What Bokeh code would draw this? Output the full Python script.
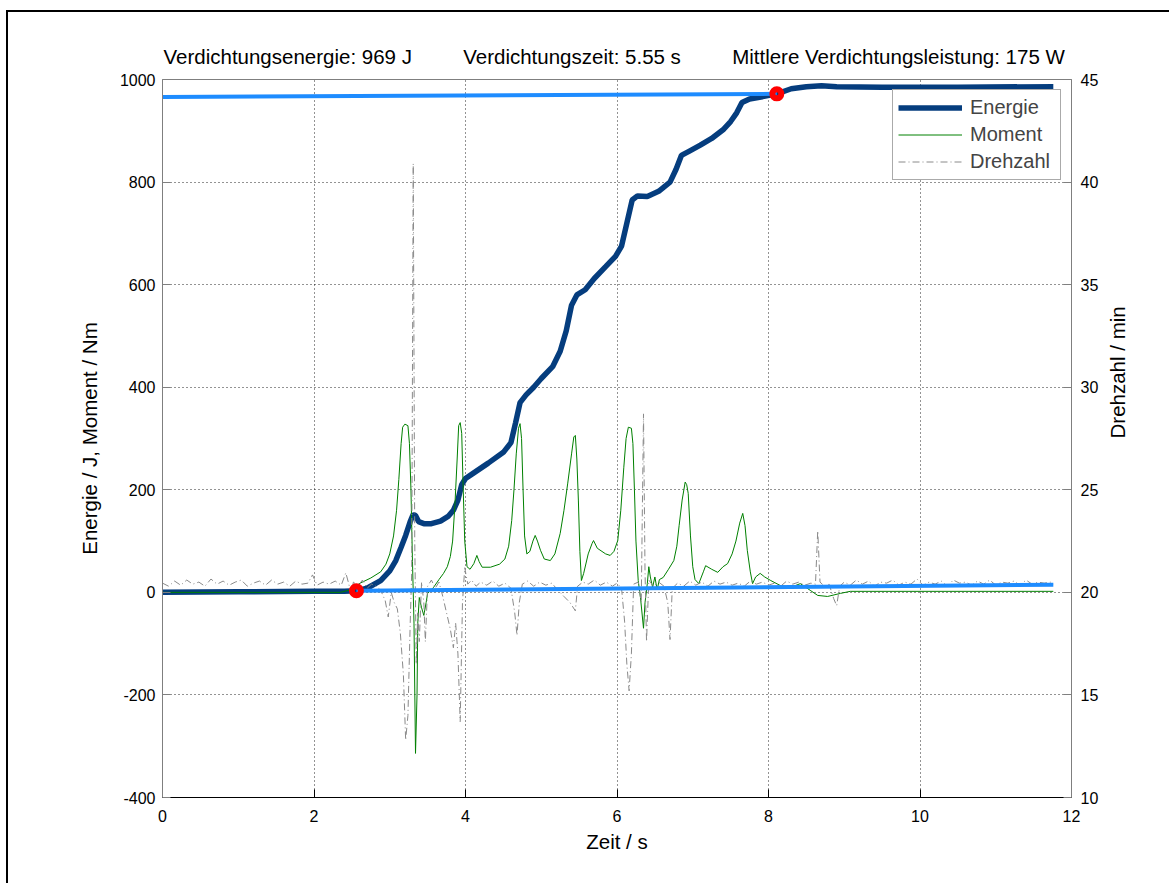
import math
from bokeh.plotting import figure
from bokeh.models import (Range1d, LinearAxis, Legend, LegendItem, FixedTicker,
                          PrintfTickFormatter)
from bokeh.embed import file_html
from bokeh.resources import INLINE

# ---------------- data ----------------
energie = [(0.0, 0), (1.0, 1), (2.0, 2), (2.4, 2), (2.56, 3), (2.7, 8), (2.88, 23), (3.0, 42),
           (3.08, 62), (3.15, 88), (3.21, 111), (3.27, 138), (3.31, 152), (3.34, 150), (3.38, 138),
           (3.45, 134), (3.55, 134), (3.67, 139), (3.77, 148), (3.84, 160), (3.90, 180), (3.95, 210),
           (4.0, 222), (4.1, 232), (4.3, 252), (4.5, 273), (4.6, 292), (4.66, 330), (4.72, 370),
           (4.8, 385), (4.9, 400), (5.0, 417), (5.15, 440), (5.25, 470), (5.33, 510), (5.4, 560),
           (5.47, 580), (5.58, 590), (5.7, 612), (5.85, 635), (5.98, 655), (6.06, 675), (6.13, 720),
           (6.2, 765), (6.27, 773), (6.4, 772), (6.55, 782), (6.7, 800), (6.78, 825), (6.85, 852),
           (6.95, 860), (7.1, 872), (7.25, 885), (7.4, 902), (7.5, 918), (7.58, 935), (7.65, 955),
           (7.75, 962), (7.9, 966), (8.11, 972), (8.3, 982), (8.5, 986), (8.7, 988), (8.9, 986),
           (9.5, 985), (10.5, 985), (11.76, 986)]
energie_t = [a for a, b in energie]
energie_v = [b for a, b in energie]

moment = [(0.0, 0), (2.35, 0), (2.48, 5), (2.61, 18), (2.75, 28), (2.88, 40), (2.95, 55), (3.0, 75),
          (3.05, 110), (3.09, 160), (3.12, 220), (3.15, 290), (3.17, 322), (3.20, 328), (3.24, 325),
          (3.26, 290), (3.28, 200), (3.30, 60), (3.32, -60), (3.34, -314), (3.36, -200), (3.37, -60),
          (3.39, -10), (3.42, -30), (3.45, -45), (3.48, -20), (3.50, -2), (3.58, 10), (3.65, 25),
          (3.71, 37), (3.76, 50), (3.80, 70), (3.83, 100), (3.86, 170), (3.89, 260), (3.91, 325),
          (3.93, 331), (3.95, 310), (3.97, 200), (3.99, 100), (4.02, 50), (4.06, 45), (4.11, 56),
          (4.15, 72), (4.18, 60), (4.22, 49), (4.33, 49), (4.45, 55), (4.52, 65), (4.57, 90),
          (4.61, 140), (4.64, 200), (4.67, 270), (4.70, 320), (4.72, 329), (4.74, 300), (4.76, 200),
          (4.78, 110), (4.81, 75), (4.85, 80), (4.89, 100), (4.92, 111), (4.95, 100), (4.99, 82),
          (5.04, 65), (5.12, 62), (5.18, 75), (5.25, 115), (5.30, 160), (5.35, 213), (5.40, 270),
          (5.43, 303), (5.45, 306), (5.47, 260), (5.49, 180), (5.51, 80), (5.53, 23), (5.56, 37),
          (5.62, 75), (5.67, 95), (5.69, 101), (5.74, 86), (5.85, 75), (5.91, 72), (5.96, 80),
          (6.01, 101), (6.05, 160), (6.09, 244), (6.12, 300), (6.15, 322), (6.19, 320), (6.21, 290),
          (6.23, 200), (6.25, 100), (6.28, 23), (6.31, -10), (6.35, -70), (6.37, -20), (6.40, 17),
          (6.42, 50), (6.44, 30), (6.47, 10), (6.50, 30), (6.53, 5), (6.56, 25), (6.61, 29),
          (6.68, 45), (6.75, 62), (6.79, 90), (6.82, 130), (6.86, 180), (6.90, 215), (6.92, 210),
          (6.94, 193), (6.97, 110), (7.0, 50), (7.03, 25), (7.08, 17), (7.14, 40), (7.17, 52),
          (7.25, 45), (7.33, 39), (7.40, 50), (7.46, 56), (7.52, 75), (7.57, 100), (7.62, 135),
          (7.66, 154), (7.69, 130), (7.72, 82), (7.76, 40), (7.79, 17), (7.83, 30), (7.89, 37),
          (7.95, 30), (8.03, 23), (8.16, 13), (8.30, 10), (8.42, 17), (8.55, 4), (8.65, -6),
          (8.78, -8), (8.95, -2), (9.08, 2), (11.76, 2)]
moment_t = [a for a, b in moment]
moment_v = [b for a, b in moment]

drehzahl = [(0.00, 20.45), (0.08, 20.30), (0.16, 20.55), (0.24, 20.35), (0.32, 20.60), (0.40, 20.40),
            (0.48, 20.50), (0.56, 20.30), (0.64, 20.65), (0.72, 20.40), (0.80, 20.55), (0.88, 20.35),
            (0.96, 20.50), (1.04, 20.60), (1.12, 20.30), (1.20, 20.45), (1.28, 20.55), (1.36, 20.35),
            (1.44, 20.60), (1.52, 20.40), (1.60, 20.50), (1.68, 20.30), (1.76, 20.55), (1.84, 20.40),
            (1.92, 20.45), (1.98, 20.85), (2.04, 20.35), (2.12, 20.50), (2.20, 20.40), (2.28, 20.55),
            (2.36, 20.35), (2.42, 20.95), (2.46, 20.40), (2.49, 19.90), (2.52, 20.50), (2.58, 20.30),
            (2.64, 20.60), (2.70, 20.20), (2.76, 20.40), (2.82, 20.30), (2.88, 20.10), (2.94, 19.60),
            (2.98, 18.80), (3.02, 20.00), (3.06, 19.50), (3.10, 19.20), (3.14, 18.00), (3.18, 16.00),
            (3.21, 12.80), (3.24, 14.00), (3.27, 18.50), (3.29, 21.00), (3.31, 40.90), (3.33, 22.50),
            (3.35, 16.50), (3.37, 19.00), (3.39, 17.60), (3.42, 20.50), (3.45, 19.50), (3.47, 17.60),
            (3.50, 20.30), (3.55, 20.60), (3.60, 20.20), (3.65, 20.50), (3.70, 19.80), (3.75, 19.00),
            (3.80, 18.20), (3.84, 17.30), (3.87, 18.50), (3.90, 17.00), (3.93, 13.70), (3.96, 19.50),
            (3.99, 21.20), (4.03, 20.40), (4.08, 20.60), (4.14, 20.30), (4.20, 20.50), (4.28, 20.35),
            (4.36, 20.55), (4.44, 20.30), (4.52, 20.45), (4.60, 20.20), (4.65, 19.00), (4.68, 17.90),
            (4.71, 19.50), (4.75, 20.40), (4.82, 20.55), (4.90, 20.30), (4.98, 20.50), (5.06, 20.35),
            (5.14, 20.45), (5.22, 20.10), (5.30, 19.80), (5.38, 19.50), (5.45, 19.10), (5.48, 20.30),
            (5.55, 20.50), (5.62, 20.40), (5.70, 20.60), (5.78, 20.35), (5.86, 20.50), (5.94, 20.30),
            (6.00, 20.45), (6.06, 20.20), (6.10, 18.60), (6.13, 16.50), (6.16, 15.20), (6.19, 17.00),
            (6.22, 20.40), (6.28, 20.50), (6.32, 19.50), (6.35, 28.70), (6.37, 21.00), (6.39, 17.60),
            (6.42, 20.60), (6.48, 20.30), (6.55, 20.50), (6.62, 20.30), (6.67, 19.50), (6.70, 17.70),
            (6.73, 20.20), (6.80, 20.45), (6.88, 20.30), (6.96, 20.55), (7.04, 20.35), (7.12, 20.50),
            (7.20, 20.30), (7.28, 20.55), (7.36, 20.40), (7.44, 20.50), (7.52, 20.35), (7.60, 20.45),
            (7.68, 20.30), (7.76, 20.55), (7.84, 20.40), (7.92, 20.50), (8.00, 20.35), (8.08, 20.45),
            (8.16, 20.30), (8.24, 20.55), (8.32, 20.40), (8.40, 20.50), (8.48, 20.35), (8.56, 20.45),
            (8.62, 20.40), (8.65, 23.00), (8.68, 20.50), (8.74, 20.30), (8.80, 20.40), (8.86, 19.70),
            (8.90, 19.35), (8.94, 20.30), (9.00, 20.50), (9.08, 20.35), (9.16, 20.60), (9.24, 20.40),
            (9.32, 20.55), (9.40, 20.30), (9.48, 20.50), (9.56, 20.45), (9.64, 20.60), (9.72, 20.35),
            (9.80, 20.50), (9.88, 20.40), (9.96, 20.65), (10.04, 20.35), (10.12, 20.50), (10.20, 20.40),
            (10.28, 20.55), (10.36, 20.30), (10.44, 20.60), (10.52, 20.45), (10.60, 20.50), (10.68, 20.35),
            (10.76, 20.55), (10.84, 20.40), (10.92, 20.60), (11.00, 20.35), (11.08, 20.50), (11.16, 20.45),
            (11.24, 20.55), (11.32, 20.35), (11.40, 20.60), (11.48, 20.40), (11.56, 20.50), (11.64, 20.45),
            (11.72, 20.50), (11.76, 20.40)]
drehzahl_t = [a for a, b in drehzahl]
drehzahl_v = [b for a, b in drehzahl]

fit_low_t = [2.56, 11.76]
fit_low_v = [3, 15]
fit_high_t = [0.0, 8.11]
fit_high_v = [966, 972]
marker_t = [2.56, 8.11]
marker_v = [3, 972]

titles = ["Verdichtungsenergie: 969 J", "Verdichtungszeit: 5.55 s",
          "Mittlere Verdichtungsleistung: 175 W"]

x_ticks = [0, 2, 4, 6, 8, 10, 12]
y_ticks = [-400, -200, 0, 200, 400, 600, 800, 1000]
rpm_ticks = [10, 15, 20, 25, 30, 35, 40, 45]

FONT = "Liberation Sans"
C_E = "#053D7E"
C_FIT = "#1E8CFF"
C_M = "#008000"
C_D = "#8A8A8A"
AX_GRAY = "#7F7F7F"
NB = "\u00a0"

p = figure(width=1163, height=873, x_range=Range1d(0, 12), y_range=Range1d(-400, 1000),
           output_backend="svg", toolbar_location=None,
           min_border_left=154, min_border_right=100, min_border_top=67, min_border_bottom=88)
p.styles = {"margin-left": "6px", "margin-top": "10px",
            "border-left": "2px solid black", "border-top": "2px solid black"}
p.extra_y_ranges = {"rpm": Range1d(10, 45)}
p.background_fill_color = "white"
p.border_fill_color = "white"
p.outline_line_color = AX_GRAY
p.outline_line_width = 1

# title row (three texts separated by non-breaking spaces)
p.title.text = titles[0] + NB * 9 + titles[1] + NB * 9 + titles[2]
p.title.align = "left"
p.title.offset = 1
p.title.text_font = FONT
p.title.text_font_size = "20.5px"
p.title.text_font_style = "normal"
p.title.text_color = "black"
p.title.standoff = 23

# axes
xa = p.xaxis[0]
xa.ticker = FixedTicker(ticks=x_ticks)
xa.axis_label = "Zeit / s"
ya = p.yaxis[0]
ya.ticker = FixedTicker(ticks=y_ticks)
ya.formatter = PrintfTickFormatter(format="%d")
ya.axis_label = "Energie / J, Moment / Nm"

ra = LinearAxis(y_range_name="rpm", ticker=FixedTicker(ticks=rpm_ticks), axis_label="Drehzahl / min")
p.add_layout(ra, "right")

for ax in [xa, ya, ra]:
    ax.major_tick_in = 8
    ax.major_tick_out = 0
    ax.minor_tick_in = 0
    ax.minor_tick_out = 0
    ax.major_label_text_font = FONT
    ax.major_label_text_font_size = "16px"
    ax.major_label_text_color = "black"
    ax.axis_label_text_font = FONT
    ax.axis_label_text_font_size = "20.5px"
    ax.axis_label_text_font_style = "normal"
    ax.axis_label_text_color = "black"
    ax.axis_line_width = 1
xa.axis_line_color = "black"
xa.major_tick_line_color = "black"
ya.axis_line_color = AX_GRAY
ya.major_tick_line_color = AX_GRAY
ra.axis_line_color = AX_GRAY
ra.major_tick_line_color = AX_GRAY

xa.major_label_standoff = 12
xa.axis_label_standoff = 5
ya.major_label_standoff = 7
ya.axis_label_standoff = 16
ra.major_label_standoff = 9
ra.axis_label_standoff = 16
ra.axis_label_orientation = math.pi / 2

# grid
p.xgrid.ticker = FixedTicker(ticks=x_ticks)
p.ygrid.ticker = FixedTicker(ticks=y_ticks)
for g in [p.xgrid[0], p.ygrid[0]]:
    g.grid_line_color = "black"
    g.grid_line_dash = "1 3"
    g.grid_line_width = 1
    g.grid_line_alpha = 0.85

# data renderers
r_e = p.line(energie_t, energie_v, line_color=C_E, line_width=5.5)
r_m = p.line(moment_t, moment_v, line_color=C_M, line_width=1)
r_d = p.line(drehzahl_t, drehzahl_v, y_range_name="rpm", line_color=C_D, line_width=1,
             line_dash="7 3 1 3")
p.line(fit_low_t, fit_low_v, line_color=C_FIT, line_width=4)
p.line(fit_high_t, fit_high_v, line_color=C_FIT, line_width=4)
p.scatter(marker_t, marker_v, marker="circle", size=9, fill_alpha=0, line_color="#FF0000",
          line_width=6)

legend = Legend(items=[LegendItem(label="Energie", renderers=[r_e]),
                       LegendItem(label="Moment", renderers=[r_m]),
                       LegendItem(label="Drehzahl", renderers=[r_d])],
                location="top_right")
legend.label_text_font = FONT
legend.label_text_font_size = "20px"
legend.glyph_width = 64
legend.glyph_height = 25
legend.label_height = 25
legend.label_width = 85
legend.label_standoff = 8
legend.spacing = 2
legend.padding = 5
legend.margin = 10
legend.border_line_color = "#555555"
legend.border_line_width = 1
legend.background_fill_alpha = 1
p.add_layout(legend)

open("out.html", "w").write(file_html(p, INLINE))
